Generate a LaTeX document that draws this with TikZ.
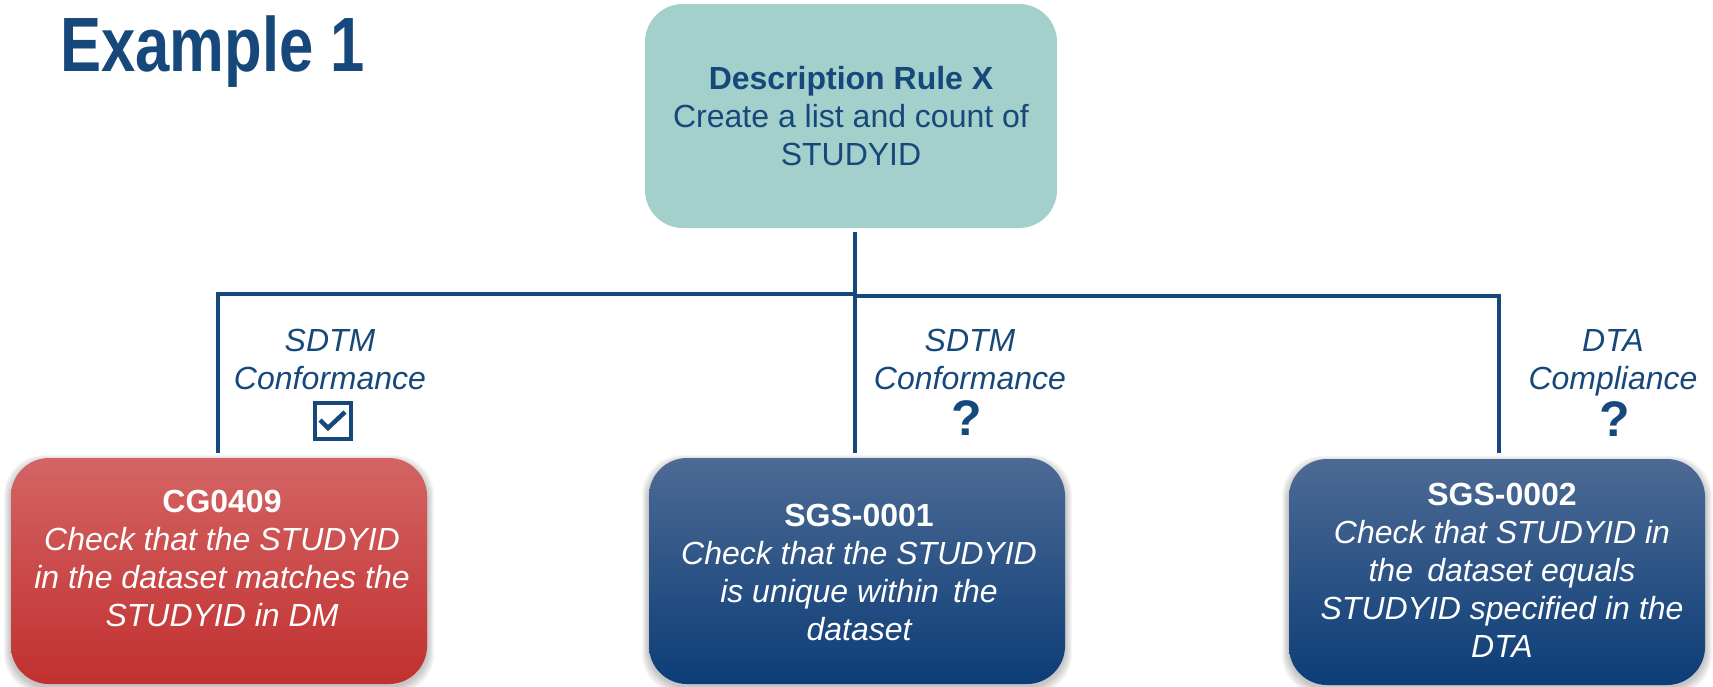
\documentclass[tikz,border=0pt]{standalone}
\usepackage{fontspec}
\setmainfont{Liberation Sans}
\usetikzlibrary{calc}
\definecolor{navy}{HTML}{17487C}
\definecolor{tealbox}{HTML}{A3D0CB}
\definecolor{redtop}{HTML}{D46464}
\definecolor{redbot}{HTML}{C1302F}
\definecolor{bluetop}{HTML}{4D6A94}
\definecolor{bluebot}{HTML}{0C3D77}
\newcommand\fsz[2]{\fontsize{#1}{#2}\selectfont}
\pgfdeclarelayer{bg}
\pgfsetlayers{bg,main}
\tikzset{
  conn/.style={draw=navy, line width=4pt},
  card/.style={rectangle, rounded corners=38pt, minimum width=416pt,
    minimum height=226pt, inner sep=0pt, outer sep=0pt},
  redcard/.style={card, top color=redtop, bottom color=redbot},
  bluecard/.style={card, top color=bluetop, bottom color=bluebot},
  cardtext/.style={anchor=north, align=center, text=white, inner sep=0pt,
    font=\fsz{32}{38}\itshape},
  lbl/.style={anchor=north, align=center, text=navy, inner sep=0pt,
    font=\fsz{32}{38}\itshape},
  qmark/.style={text=navy, inner sep=0pt, font=\fsz{50}{50}\bfseries},
}
\newcommand\softshadow[1]{%
  \foreach \s in {1,...,7}{%
    \fill[black, opacity=0.035, rounded corners=40pt]
      ($(#1.north west)+(-\s,4-\s)$) rectangle ($(#1.south east)+(\s,3+\s)$);
  }%
}
\begin{document}
\begin{tikzpicture}[x=1pt, y=-1pt]
\useasboundingbox (0,0) rectangle (1713,686);

% heading
\node[anchor=base west, inner sep=0pt, text=navy, font=\fsz{77}{77}\bfseries]
  (title) at (60,71) {\scalebox{0.80}[1]{Example 1}};

% rule being described
\node[card, fill=tealbox, minimum width=412pt, minimum height=224pt,
      align=center, text=navy, font=\fsz{32}{38}]
  (top) at (851,116)
  {\textbf{Description Rule X}\\Create a list and count of\\STUDYID};

% checks
\node[redcard]  (cg)   at (219,571) {};
\node[bluecard] (sgsa) at (857,571) {};
\node[bluecard] (sgsb) at (1497,572) {};

\node[cardtext] (cgtxt) at (222,490)
  {\textbf{\upshape CG0409}\\Check that the STUDYID\\in the dataset matches the\\STUDYID in DM};
\node[cardtext] (sgsatxt) at (859,504)
  {\textbf{\upshape SGS-0001}\\Check that the STUDYID\\is unique within\, the\\dataset};
\node[cardtext] (sgsbtxt) at (1502,483)
  {\textbf{\upshape SGS-0002}\\Check that STUDYID in\\the\, dataset equals\\STUDYID specified in the\\DTA};

\begin{pgfonlayer}{bg}
  \softshadow{cg}
  \softshadow{sgsa}
  \softshadow{sgsb}
\end{pgfonlayer}

% tree connectors
\coordinate (jl) at (855,294);
\coordinate (jr) at (855,296);
\draw[conn] ([xshift=4pt,yshift=-4pt]top.south) -- ([yshift=5pt]sgsa.north -| jl);
\draw[conn] ([xshift=-1pt,yshift=5pt]cg.north) |- (jl);
\draw[conn] ([xshift=2pt,yshift=6pt]sgsb.north) |- (jr);

% branch labels
\node[lbl] (l1) at (330,329) {SDTM\\Conformance};
\node[lbl] (l2) at (970,329) {SDTM\\Conformance};
\node[lbl] (l3) at (1613,329) {DTA\\Compliance};

\node[draw=navy, line width=4pt, minimum size=36pt, inner sep=0pt] (chk) at (333,421) {};
\draw[navy, line width=4.5pt, line join=miter]
  ($(chk.center)+(-13,-1)$) -- ($(chk.center)+(-5,7)$) -- ($(chk.center)+(12,-9)$);

\node[qmark] (q2) at (967,418.5) {?};
\node[qmark] (q3) at (1615,419.5) {?};
\end{tikzpicture}
\end{document}
